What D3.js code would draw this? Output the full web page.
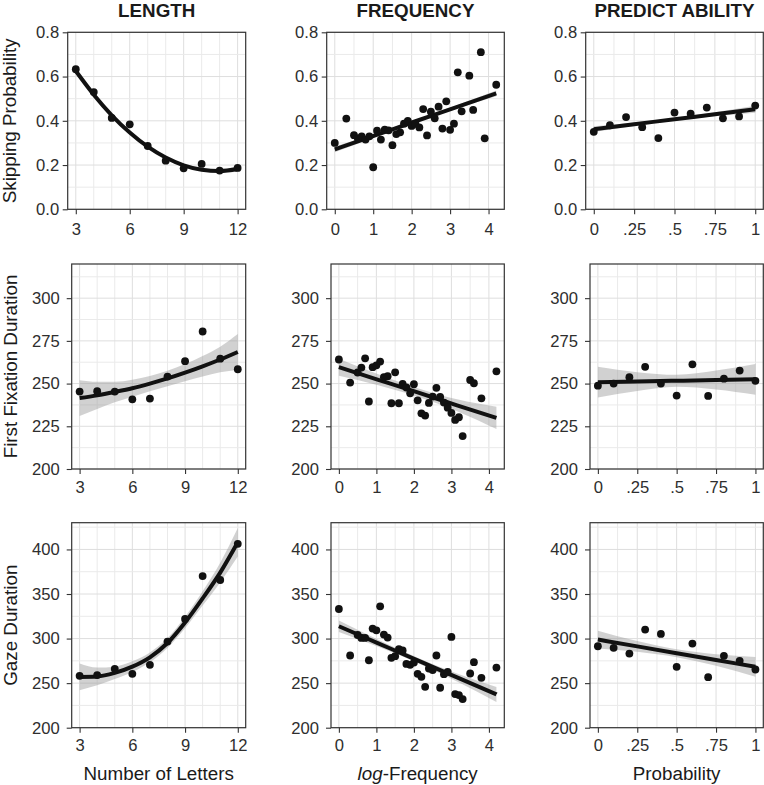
<!DOCTYPE html>
<html><head><meta charset="utf-8">
<script src="https://cdn.jsdelivr.net/npm/d3@7"></script>
<style>
html,body{margin:0;padding:0;background:#fff;}
svg{display:block;font-family:"Liberation Sans",Arial,Helvetica,sans-serif;}
</style></head><body>
<svg id="chart" width="764" height="785"></svg>
<script>
// ---------- labels ----------
const columnTitles = ["LENGTH", "FREQUENCY", "PREDICT ABILITY"];
const rowTitles = ["Skipping Probability", "First Fixation Duration", "Gaze Duration"];
const xTitles = ["Number of Letters", "log-Frequency", "Probability"];
const xTicks = [[3, 6, 9, 12], [0, 1, 2, 3, 4], [0, 0.25, 0.5, 0.75, 1]];
const xTickLabels = [["3", "6", "9", "12"], ["0", "1", "2", "3", "4"], ["0", ".25", ".5", ".75", "1"]];
const yTicks = [[0, 0.2, 0.4, 0.6, 0.8], [200, 225, 250, 275, 300], [200, 250, 300, 350, 400]];
const yTickLabels = [["0.0", "0.2", "0.4", "0.6", "0.8"], ["200", "225", "250", "275", "300"], ["200", "250", "300", "350", "400"]];

// ---------- data: LENGTH ----------
const letters = [3, 4, 5, 6, 7, 8, 9, 10, 11, 12];
const lenSkip = [0.633, 0.530, 0.413, 0.384, 0.286, 0.220, 0.185, 0.205, 0.175, 0.187];
const lenFFD = [245.3, 245.5, 245.3, 240.8, 241.2, 254.1, 263.1, 280.5, 264.6, 258.4];
const lenGD = [258.2, 259.0, 266.0, 260.4, 270.5, 296.6, 322.0, 370.1, 365.7, 406.3];
// fitted curves (read at each letter count) and CI half-widths
const lenSkipFit = [0.625, 0.518, 0.425, 0.347, 0.283, 0.234, 0.199, 0.179, 0.173, 0.182];
const lenSkipCI = [0.012, 0.008, 0.006, 0.006, 0.005, 0.005, 0.006, 0.007, 0.008, 0.012];
const lenFFDFit = [241.5, 243.1, 245.1, 247.3, 250.0, 253.0, 256.4, 260.1, 264.1, 268.5];
const lenFFDCI = [10.5, 8, 6, 5, 4.5, 4.5, 5, 6, 7.5, 10.5];
const lenGDFit = [257, 257.5, 261.5, 268.5, 279, 295, 318, 345, 374, 408];
const lenGDCI = [15, 10, 7, 6, 5.5, 5.5, 6.5, 8, 11, 16];

// ---------- data: FREQUENCY ----------
const freqSkipX = [0, 0.3, 0.5, 0.6, 0.7, 0.8, 0.9, 1.0, 1.1, 1.2, 1.3, 1.4, 1.5, 1.6, 1.7, 1.8, 1.9, 2.0, 2.1, 2.2, 2.3, 2.4, 2.5, 2.6, 2.7, 2.8, 2.9, 3.0, 3.1, 3.2, 3.3, 3.5, 3.6, 3.8, 3.9, 4.2];
const freqSkip = [0.30, 0.41, 0.335, 0.32, 0.33, 0.315, 0.33, 0.19, 0.355, 0.315, 0.36, 0.357, 0.29, 0.34, 0.348, 0.387, 0.40, 0.377, 0.386, 0.37, 0.453, 0.334, 0.441, 0.411, 0.464, 0.365, 0.488, 0.359, 0.387, 0.619, 0.443, 0.604, 0.449, 0.710, 0.321, 0.563];
const freqDurX = [0, 0.3, 0.5, 0.6, 0.7, 0.8, 0.9, 1.0, 1.1, 1.2, 1.3, 1.4, 1.5, 1.6, 1.7, 1.8, 1.9, 2.0, 2.1, 2.2, 2.3, 2.4, 2.5, 2.6, 2.7, 2.8, 2.9, 3.0, 3.1, 3.2, 3.3, 3.5, 3.6, 3.8, 4.2];
const freqFFD = [264.1, 250.6, 256.5, 259.4, 264.8, 239.5, 259.6, 260.7, 262.9, 253.7, 254.3, 238.5, 256.6, 238.5, 249.8, 247.7, 244.3, 249.6, 240.2, 232.6, 231.3, 238.7, 242.4, 247.5, 242.2, 238.9, 235.9, 232.8, 228.7, 230.3, 219.3, 252.1, 250.2, 241.4, 257.2];
const freqGD = [333.2, 281.0, 304, 300.7, 300.7, 275.7, 311.2, 309.3, 336.2, 304.5, 301.1, 278.4, 280.2, 288.1, 286.6, 271.6, 270.5, 273.1, 260.4, 257.1, 245.9, 266.4, 264.6, 281.0, 244.8, 260.1, 262.7, 301.9, 237.7, 236.6, 232.1, 260.8, 273.5, 256.0, 267.5];
const freqFitX = [0, 1.05, 2.1, 3.15, 4.2];
const freqSkipFit = [0.271, 0.334, 0.398, 0.461, 0.524];
const freqSkipCI = [0.013, 0.008, 0.006, 0.008, 0.013];
const freqFFDFit = [259.6, 252.2, 244.8, 237.3, 229.9];
const freqFFDCI = [5, 3.2, 2.5, 3.5, 6.5];
const freqGDFit = [313.8, 294.7, 275.6, 256.4, 237.3];
const freqGDCI = [6.5, 4, 3, 4.5, 8.5];

// ---------- data: PREDICTABILITY ----------
const predX = [0, 0.1, 0.2, 0.3, 0.4, 0.5, 0.6, 0.7, 0.8, 0.9, 1.0];
const predSkip = [0.350, 0.380, 0.417, 0.371, 0.322, 0.437, 0.432, 0.460, 0.411, 0.420, 0.469];
const predFFD = [248.8, 250.0, 253.7, 259.8, 250.0, 243.0, 261.3, 242.8, 252.9, 257.6, 251.6];
const predGD = [291.4, 289.6, 283.2, 310.1, 305.2, 268.3, 294.4, 256.7, 280.6, 275.0, 265.3];
const predFitX = [0, 0.25, 0.5, 0.75, 1];
const predSkipFit = [0.362, 0.3845, 0.407, 0.4295, 0.452];
const predSkipCI = [0.013, 0.008, 0.006, 0.009, 0.016];
const predFFDFit = [250.8, 251.2, 251.65, 252.1, 252.5];
const predFFDCI = [9, 5.5, 3.5, 5.5, 9];
const predGDFit = [298.9, 291.25, 283.6, 275.95, 268.3];
const predGDCI = [10, 6, 4.5, 6.5, 11];

// ---------- layout ----------
const rowTop = [32.3, 264, 522.7], rowBottom = [209.3, 469, 727.7];
const colLeft = [[67.7, 326.7, 585.7], [71.7, 331, 590], [71.7, 331, 590]];
const colRight = [245.7, 504.3, 763.3];
const xDomains = [[2.55, 12.45], [-0.21, 4.41], [-0.05, 1.05]];
const yDomains = [[0, 0.8], [200, 320], [200, 430]];
const xGridRange = [[3, 12, 1], [0, 4, 0.5], [0, 1, 0.125]];
const yGridStep = [0.1, 12.5, 25];
const yPad = [3.5, 7, 7], xPad = [8.5, 7, 7];

const panels = [
  [letters, lenSkip, letters, lenSkipFit, lenSkipCI],
  [freqSkipX, freqSkip, freqFitX, freqSkipFit, freqSkipCI],
  [predX, predSkip, predFitX, predSkipFit, predSkipCI],
  [letters, lenFFD, letters, lenFFDFit, lenFFDCI],
  [freqDurX, freqFFD, freqFitX, freqFFDFit, freqFFDCI],
  [predX, predFFD, predFitX, predFFDFit, predFFDCI],
  [letters, lenGD, letters, lenGDFit, lenGDCI],
  [freqDurX, freqGD, freqFitX, freqGDFit, freqGDCI],
  [predX, predGD, predFitX, predGDFit, predGDCI]
];

const svg = d3.select("#chart");
const txt = "#2e2e2e";

panels.forEach((p, i) => {
  const r = Math.floor(i / 3), c = i % 3;
  const L = colLeft[r][c], R = colRight[c], T = rowTop[r], B = rowBottom[r];
  const x = d3.scaleLinear().domain(xDomains[c]).range([L, R]);
  const y = d3.scaleLinear().domain(yDomains[r]).range([B, T]);
  const g = svg.append("g");

  // grid
  const [gx0, gx1, gxs] = xGridRange[c];
  const xg = d3.range(gx0, gx1 + 1e-9, gxs);
  const yg = d3.range(yDomains[r][0], yDomains[r][1] + 1e-9, yGridStep[r]);
  const isMajorX = v => xTicks[c].some(t => Math.abs(t - v) < 1e-9);
  const isMajorY = v => yTicks[r].some(t => Math.abs(t - v) < 1e-9);
  g.selectAll(".gx").data(xg).enter().append("line")
    .attr("x1", d => x(d)).attr("x2", d => x(d)).attr("y1", T).attr("y2", B)
    .attr("stroke", d => isMajorX(d) ? "#dedede" : "#eaeaea").attr("stroke-width", 1);
  g.selectAll(".gy").data(yg).enter().append("line")
    .attr("y1", d => y(d)).attr("y2", d => y(d)).attr("x1", L).attr("x2", R)
    .attr("stroke", d => isMajorY(d) ? "#dedede" : "#eaeaea").attr("stroke-width", 1);

  // CI band
  const [px, py, fx, fy, ci] = p;
  const fitData = fx.map((v, k) => ({ x: v, y: fy[k], lo: fy[k] - ci[k], hi: fy[k] + ci[k] }));
  g.append("path").datum(fitData)
    .attr("d", d3.area().x(d => x(d.x)).y0(d => y(d.lo)).y1(d => y(d.hi)).curve(d3.curveMonotoneX))
    .attr("fill", "#999999").attr("fill-opacity", 0.45);
  // fitted line
  g.append("path").datum(fitData)
    .attr("d", d3.line().x(d => x(d.x)).y(d => y(d.y)).curve(d3.curveMonotoneX))
    .attr("fill", "none").attr("stroke", "#111").attr("stroke-width", 4).attr("stroke-linecap", "butt");
  // points
  g.selectAll(".pt").data(px.map((v, k) => [v, py[k]])).enter().append("circle")
    .attr("cx", d => x(d[0])).attr("cy", d => y(d[1])).attr("r", 3.9).attr("fill", "#111");

  // border
  g.append("rect").attr("x", L).attr("y", T).attr("width", R - L).attr("height", B - T)
    .attr("fill", "none").attr("stroke", "#333").attr("stroke-width", 1.2);

  // axes
  const ax = g.append("g").attr("transform", `translate(0,${B})`)
    .call(d3.axisBottom(x).tickValues(xTicks[c]).tickFormat((d, k) => xTickLabels[c][k])
      .tickSize(5).tickSizeOuter(0).tickPadding(xPad[r]));
  const ay = g.append("g").attr("transform", `translate(${L},0)`)
    .call(d3.axisLeft(y).tickValues(yTicks[r]).tickFormat((d, k) => yTickLabels[r][k])
      .tickSize(5).tickSizeOuter(0).tickPadding(yPad[r]));
  [ax, ay].forEach(a => {
    a.select(".domain").remove();
    a.selectAll(".tick line").attr("stroke", "#333").attr("stroke-width", 1.1);
    a.selectAll(".tick text").attr("fill", txt).attr("font-size", 16.6)
      .attr("font-family", "'Liberation Sans', Arial, sans-serif");
  });
});

// column titles
columnTitles.forEach((t, c) => {
  svg.append("text").attr("x", (colLeft[0][c] + colRight[c]) / 2).attr("y", 16.5)
    .attr("text-anchor", "middle").attr("font-weight", "bold").attr("font-size", 18.8)
    .attr("fill", "#1a1a1a").text(t);
});
// row titles
rowTitles.forEach((t, r) => {
  const cy = (rowTop[r] + rowBottom[r]) / 2;
  svg.append("text").attr("transform", `translate(${r === 0 ? 16 : 17},${cy}) rotate(-90)`)
    .attr("text-anchor", "middle").attr("font-size", 18.8).attr("fill", "#1a1a1a").text(t);
});
// x titles
xTitles.forEach((t, c) => {
  const cx = (colLeft[2][c] + colRight[c]) / 2;
  const el = svg.append("text").attr("x", cx).attr("y", 780).attr("text-anchor", "middle")
    .attr("font-size", 18.8).attr("fill", "#1a1a1a");
  if (t.startsWith("log-")) {
    el.append("tspan").attr("font-style", "italic").text("log");
    el.append("tspan").text(t.slice(3));
  } else el.text(t);
});
</script>
</body></html>
